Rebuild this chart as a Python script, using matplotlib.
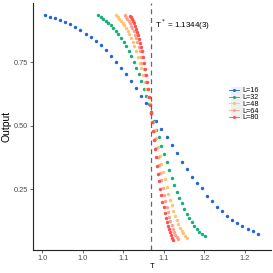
import numpy as np
import matplotlib
matplotlib.use('Agg')
import matplotlib.pyplot as plt
from matplotlib.lines import Line2D
from matplotlib.patches import Rectangle

plt.rcParams['font.family'] = ['Liberation Sans', 'DejaVu Sans']

# critical temperature and scaled grid (T - Tc) * L
TC = 1.1344
x_scaled = np.round(np.arange(-21, 22) / 10, 1)

sizes = [16, 32, 48, 64, 80]
labels = ['L=16', 'L=32', 'L=48', 'L=64', 'L=80']
colors = ['#1f63e0', '#0fb07a', '#ffc46e', '#ffa08c', '#ff4f4f']

out_16 = [0.936, 0.930, 0.923, 0.916, 0.908, 0.900, 0.888, 0.876, 0.863, 0.849,
          0.833, 0.817, 0.799, 0.775, 0.752, 0.729, 0.704, 0.676, 0.648, 0.617,
          0.588, 0.554, 0.520, 0.487, 0.457, 0.424, 0.394, 0.357, 0.328, 0.299,
          0.275, 0.253, 0.223, 0.202, 0.178, 0.163, 0.145, 0.129, 0.116, 0.105,
          0.093, 0.084, 0.074]
out_32 = [0.935, 0.929, 0.922, 0.914, 0.906, 0.897, 0.886, 0.874, 0.861, 0.846,
          0.831, 0.814, 0.796, 0.773, 0.750, 0.727, 0.702, 0.675, 0.646, 0.616,
          0.586, 0.552, 0.517, 0.485, 0.454, 0.421, 0.387, 0.356, 0.325, 0.295,
          0.266, 0.239, 0.214, 0.194, 0.170, 0.152, 0.135, 0.119, 0.104, 0.092,
          0.080, 0.073, 0.065]
out_48 = [0.935, 0.928, 0.921, 0.913, 0.905, 0.896, 0.885, 0.873, 0.860, 0.845,
          0.830, 0.813, 0.795, 0.772, 0.749, 0.726, 0.701, 0.674, 0.645, 0.615,
          0.585, 0.551, 0.515, 0.482, 0.450, 0.416, 0.382, 0.350, 0.318, 0.288,
          0.259, 0.232, 0.207, 0.186, 0.163, 0.145, 0.128, 0.112, 0.098, 0.086,
          0.075, 0.066, 0.058]
out_64 = [0.935, 0.928, 0.921, 0.913, 0.904, 0.895, 0.884, 0.872, 0.859, 0.844,
          0.829, 0.812, 0.794, 0.771, 0.748, 0.725, 0.700, 0.673, 0.644, 0.614,
          0.584, 0.550, 0.514, 0.480, 0.447, 0.413, 0.378, 0.346, 0.314, 0.284,
          0.255, 0.228, 0.203, 0.181, 0.159, 0.140, 0.123, 0.108, 0.094, 0.082,
          0.071, 0.062, 0.054]
out_80 = [0.934, 0.927, 0.920, 0.912, 0.903, 0.894, 0.883, 0.871, 0.858, 0.843,
          0.828, 0.811, 0.793, 0.770, 0.747, 0.724, 0.699, 0.672, 0.643, 0.613,
          0.583, 0.549, 0.513, 0.478, 0.445, 0.410, 0.375, 0.343, 0.311, 0.281,
          0.252, 0.225, 0.200, 0.178, 0.156, 0.137, 0.120, 0.105, 0.091, 0.079,
          0.068, 0.059, 0.051]
outputs = [out_16, out_32, out_48, out_64, out_80]

x_ticks = [1.00, 1.05, 1.10, 1.15, 1.20, 1.25]
x_ticklabels = ['1.0', '1.0', '1.1', '1.1', '1.2', '1.2']
y_ticks = [0.25, 0.50, 0.75]
y_ticklabels = ['0.25', '0.50', '0.75']

fig = plt.figure(figsize=(2.73, 2.73), dpi=100)
ax = fig.add_axes([33 / 273, 23 / 273, 238 / 273, 247 / 273])

for L, vals, c in zip(sizes, outputs, colors):
    T = TC + x_scaled / L
    ax.scatter(T, vals, s=6, color=c, linewidths=0, zorder=3)

ax.axvline(TC, color='#666666', lw=0.9, ls=(0, (4, 3)), zorder=4)
ax.text(1.1386, 0.897, 'T$^*$ = 1.1344(3)', fontsize=5.8, color='black',
        va='center', ha='left')

ax.set_xlim(0.9883, 1.2821)
ax.set_ylim(0.0099, 0.9838)
ax.set_xticks(x_ticks)
ax.set_xticklabels(x_ticklabels)
ax.set_yticks(y_ticks)
ax.set_yticklabels(y_ticklabels)
ax.tick_params(length=2, width=0.5, color='#333333', labelsize=5.3,
               labelcolor='#4d4d4d', pad=1.5)
for side in ['top', 'right']:
    ax.spines[side].set_visible(False)
for side in ['left', 'bottom']:
    ax.spines[side].set_linewidth(0.8)
    ax.spines[side].set_color('#222222')

ax.set_xlabel('T', fontsize=5.5, labelpad=0.5)
ax.set_ylabel('Output', fontsize=7.5, labelpad=2)

# legend key background
fig.patches.append(Rectangle((231 / 273, 1 - 119 / 273), 12 / 273, 32 / 273,
                             transform=fig.transFigure, facecolor='#f0f0f0',
                             edgecolor='none', zorder=0))
handles = [Line2D([0], [0], color=c, lw=0.6, marker='o', ms=2.2, mec='none')
           for c in colors]
fig.legend(handles, labels, loc='upper left',
           bbox_to_anchor=(228 / 273, 1 - 86 / 273), frameon=False,
           fontsize=5.2, handlelength=1.3, handletextpad=0.5,
           labelspacing=-0.05, borderpad=0.2, borderaxespad=0)

fig.savefig('out.png', dpi=100)
